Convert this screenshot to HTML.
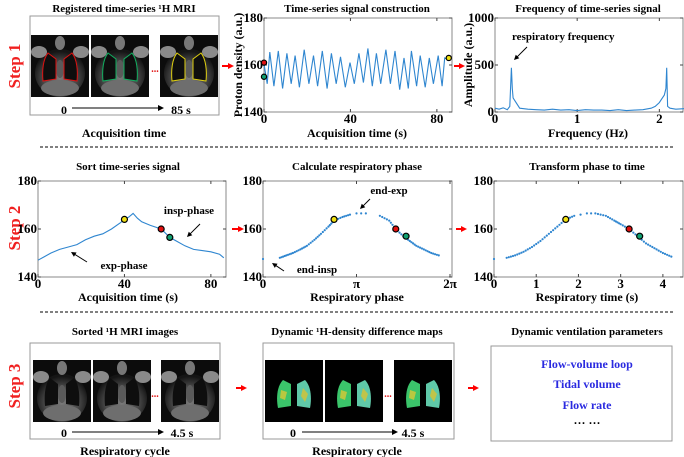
<!DOCTYPE html>
<html><head><meta charset="utf-8"><style>
html,body{margin:0;padding:0;background:#fff;}
svg{display:block;font-family:"Liberation Serif",serif;font-weight:bold;}
</style></head><body>
<svg id="fig" width="684" height="457" viewBox="0 0 684 457" xmlns="http://www.w3.org/2000/svg">
<defs>
  <radialGradient id="bodyG" cx="50%" cy="60%" r="55%">
    <stop offset="0" stop-color="#7a7a7a"/><stop offset="0.6" stop-color="#4a4a4a"/><stop offset="1" stop-color="#151515"/>
  </radialGradient>
  <g id="mri">
    <rect x="0" y="0" width="58" height="62" fill="#0c0c0c"/>
    <ellipse cx="29" cy="38" rx="25" ry="24" fill="url(#bodyG)"/>
    <ellipse cx="8" cy="17" rx="8" ry="6" fill="#8a8a8a"/>
    <ellipse cx="50" cy="17" rx="8" ry="6" fill="#8a8a8a"/>
    <ellipse cx="29" cy="8" rx="5" ry="7" fill="#777"/>
    <ellipse cx="29" cy="53" rx="19" ry="8" fill="#6e6e6e"/>
    <path d="M17 18 C12 24 11 36 12 46 L25 44 L25 24 Z" fill="#0e0e0e"/>
    <path d="M41 18 C46 24 47 36 46 46 L33 44 L33 24 Z" fill="#0e0e0e"/>
    <ellipse cx="29" cy="34" rx="4" ry="9" fill="#5a5a5a"/>
  </g>
  <g id="vent">
    <rect x="0" y="0" width="58" height="62" fill="#000"/>
    <path d="M18 20 C12 26 11 38 13 48 L26 46 L26 24 Z" fill="#3bc46a"/>
    <path d="M40 20 C46 26 47 38 45 48 L32 46 L32 24 Z" fill="#5fc8a8"/>
    <path d="M16 30 L22 32 L20 40 L15 38Z" fill="#b8c840"/>
    <path d="M38 28 L43 34 L40 42 L36 36Z" fill="#c0c44a"/>
  </g>
</defs>
</svg>
<script>
// ---------- DATA ----------
const sigTimes = [0,1.5,2.7,4.6,6.6,8.6,10.6,12.6,14.4,16.4,18.6,20.8,22.9,24.8,27,29.2,31.2,33.4,35.4,37.6,39.8,41.8,43.9,46,48.1,50.1,52,54,56.4,58.5,60.6,62.8,64.8,66.8,68.2,70.6,72.3,74.6,76.5,78.4,80.6,82.4,83.6,86];
const sigValues = [160.5,152,165.5,151,166,150,165,152,164,150.5,166.5,152,164,151,166,150,165,152,163.5,150.5,161,152,165,152.5,167,151,165,152,166.5,152,166,149.5,163,150,166,151,164,150.5,163,152,164,151,163,162];
const specFreq = [0,0.05,0.1,0.15,0.18,0.2,0.21,0.22,0.25,0.3,0.4,0.5,0.6,0.7,0.8,0.9,1.0,1.1,1.2,1.3,1.4,1.5,1.6,1.7,1.8,1.9,1.95,2.0,2.03,2.06,2.08,2.09,2.1,2.13,2.2,2.3];
const specAmp  = [40,30,45,25,60,470,250,150,110,40,30,25,20,30,20,25,15,25,20,20,15,25,15,20,25,40,60,100,140,180,250,470,60,40,30,35];
const sortTimes  = [0,3,6,10,14,18,22,26,30,34,38,40,42,44,46,48,52,57,61,64,68,72,76,80,84,86];
const sortValues = [147,148.5,150,151.5,152.5,153.5,155.5,157,158,160,162.5,164,165,166.5,164.5,163,161.5,160,156.5,155,153,151.5,151,150.5,149.5,148];
const phaseVals  = [0,0.18,0.25,0.32,0.4,0.47,0.55,0.62,0.7,0.76,0.85,0.93,1.0,1.05,1.1,1.25,1.35,1.42,1.5,1.57,1.64,1.72,1.8,1.88];
const phaseSig   = [147.5,148,149,150,151.5,153,155.5,158,161,163.5,165,166,166.5,166.5,166.5,165.5,163.5,160,157,155,153,151.5,150,149];
const respTimes  = [0,0.3,0.5,0.7,0.9,1.1,1.3,1.5,1.7,1.9,2.05,2.2,2.3,2.4,2.65,2.85,3.0,3.2,3.4,3.6,3.8,4.0,4.2];
const respSig    = [147.5,148,149,150.5,152.5,155,158,161,164,165.5,166,166.5,166.5,166.5,165.5,163.5,162,160,157,154,152,150,148.5];
const sortMarkT = [40,57,61], sortMarkV = [164,160,156.5];
const phaseMarkP = [0.76,1.42,1.53], phaseMarkV = [164,160,157];
const respMarkT = [1.7,3.2,3.45], respMarkV = [164,160,157];
const markColors = ['#f0e010','#e01010','#10a070'];
const sigTicks = [0,40,80], ampTicks=[0,500,1000], freqTicks=[0,1,2], pdTicks=[140,160,180];
const phaseTicks=[0,1,2], phaseLabels=['0','\u03c0','2\u03c0'], timeTicks=[0,1,2,3,4];

// ---------- HELPERS ----------
const NS='http://www.w3.org/2000/svg';
const svg=document.getElementById('fig');
function mk(tag,attrs,parent,text){const e=document.createElementNS(NS,tag);for(const k in attrs)e.setAttribute(k,attrs[k]);if(text!==undefined)e.textContent=text;(parent||svg).appendChild(e);return e;}
function scale(d0,d1,r0,r1){return v=>r0+(v-d0)/(d1-d0)*(r1-r0);}
function txt(x,y,s,size,name,opts){opts=opts||{};const t=mk('text',{x:x,y:y,'font-size':size,'text-anchor':opts.anchor||'middle',fill:opts.fill||'#000'},svg,s);
  if(opts.rot){t.setAttribute('transform','rotate(-90 '+x+' '+y+')');}
  
  
  return t;}
function axes(name,x0,y0,w,h,xs,ys,xt,xl,yt,yl){
  const g=mk('g',{});
  
  
  mk('rect',{x:x0,y:y0,width:w,height:h,fill:'#fff',stroke:'#888','stroke-width':1},g);
  xt.forEach((v,i)=>{const x=xs(v);mk('line',{x1:x,y1:y0+h,x2:x,y2:y0+h-3,stroke:'#444'},g);mk('line',{x1:x,y1:y0,x2:x,y2:y0+3,stroke:'#444'},g);
    const t=mk('text',{x:x,y:y0+h+11,'font-size':13,'text-anchor':'middle'},g,xl[i]);
    
    });
  yt.forEach((v,i)=>{const y=ys(v);mk('line',{x1:x0,y1:y,x2:x0+3,y2:y,stroke:'#444'},g);mk('line',{x1:x0+w,y1:y,x2:x0+w-3,y2:y,stroke:'#444'},g);
    const t=mk('text',{x:x0-1,y:y+4,'font-size':13,'text-anchor':'end'},g,yl[i]);
    
    });
  return g;}
function line(g,xs,ys,X,Y,name){const d=X.map((v,i)=>(i?'L':'M')+xs(v).toFixed(1)+' '+ys(Y[i]).toFixed(1)).join(' ');
  const p=mk('path',{d:d,fill:'none',stroke:'#2f86d0','stroke-width':1.1},g);
  
  }
function dots(g,xs,ys,X,Y,name){const span=X[X.length-1]-X[0];
  X.forEach((v,i)=>{const c=mk('circle',{cx:xs(v),cy:ys(Y[i]),r:1.1,fill:'#2f86d0'},g);
  
  
  if(i>0&&i<X.length-1&&X[i+1]-v<span*0.06&&Math.abs(Y[i+1]-Y[i])>0.8){for(let k=1;k<4;k++){const f=k/4;const c2=mk('circle',{cx:xs(v)+(xs(X[i+1])-xs(v))*f,cy:ys(Y[i])+(ys(Y[i+1])-ys(Y[i]))*f,r:1.1,fill:'#2f86d0'},g);
    
    }}});}
function markers(g,xs,ys,X,Y){X.forEach((v,i)=>{const c=mk('circle',{cx:xs(v),cy:ys(Y[i]),r:3,fill:markColors[i],stroke:'#000','stroke-width':1.2},g);
  
  });}
function arrow(x1,y1,x2,y2,color,name,w){const g=mk('g',{});
  
  
  const a=Math.atan2(y2-y1,x2-x1),L=w||5;
  mk('line',{x1:x1,y1:y1,x2:x2-Math.cos(a)*L*0.8,y2:y2-Math.sin(a)*L*0.8,stroke:color,'stroke-width':color==='#f00'?2:1},g);
  const p=[[x2,y2],[x2-L*Math.cos(a)+L*0.5*Math.sin(a),y2-L*Math.sin(a)-L*0.5*Math.cos(a)],[x2-L*Math.cos(a)-L*0.5*Math.sin(a),y2-L*Math.sin(a)+L*0.5*Math.cos(a)]];
  mk('polygon',{points:p.map(q=>q.join(',')).join(' '),fill:color},g);}
function box(x,y,w,h,name){const r=mk('rect',{x:x,y:y,width:w,height:h,fill:'#fff',stroke:'#999','stroke-width':1});
  
  }
function img(id,x,y,name,outline){const u=mk('use',{href:'#'+id,x:x,y:y});
  
  
  if(outline){const p=mk('path',{d:`M${x+17} ${y+18} C${x+12} ${y+24} ${x+11} ${y+36} ${x+12} ${y+46} L${x+25} ${y+44} L${x+25} ${y+24} Z M${x+41} ${y+18} C${x+46} ${y+24} ${x+47} ${y+36} ${x+46} ${y+46} L${x+33} ${y+44} L${x+33} ${y+24} Z`,fill:'none',stroke:outline,'stroke-width':1});
    
    }}

// ---------- STEP LABELS ----------
txt(20,66,'Step 1',17,'step-1-label',{rot:true,fill:'#f02020'});
txt(20,228,'Step 2',17,'step-2-label',{rot:true,fill:'#f02020'});
txt(20,386,'Step 3',17,'step-3-label',{rot:true,fill:'#f02020'});

// ---------- STEP 1 ----------
txt(124,12,'Registered time-series \u00b9H MRI',11,'mri-panel-title');
box(30,16,189,99,'mri-series-box');
img('mri',31,35,'mri-frame-first','#e01010');
img('mri',91,35,'mri-frame-second','#10b060');
img('mri',160,35,'mri-frame-last','#e0d010');
txt(155,72,'...',10,'ellipsis',{fill:'#e01010'});
txt(64,114,'0',12,'time-start-label');
arrow(72,108,164,108,'#000','time-arrow',6);
txt(181,114,'85 s',12,'time-end-label');
txt(124,137,'Acquisition time',12,'acquisition-time-label');

let xs=scale(0,87,264,452), ys=scale(140,180,112,18);
let g=axes('signal-chart',264,18,188,94,xs,ys,sigTicks,sigTicks.map(String),pdTicks,pdTicks.map(String));
line(g,xs,ys,sigTimes,sigValues,'signal-line');
[[0,161,'#e01010'],[0,155,'#10a070'],[85.5,163,'#f0e010']].forEach(m=>{const c=mk('circle',{cx:xs(m[0]),cy:ys(m[1]),r:2.6,fill:m[2],stroke:'#000','stroke-width':1.2},g);
  
  });
txt(357,12,'Time-series signal construction',11,'signal-title');
txt(357,137,'Acquisition time (s)',12,'signal-x-title');
txt(242,65,'Proton density (a.u.)',12,'signal-y-title',{rot:true});
arrow(222,66,234,66,'#f00','arrow-1a',6);
arrow(454,66,465,66,'#f00','arrow-1b',6);

xs=scale(0,2.3,495,684); ys=scale(0,1000,112,18);
g=axes('spectrum-chart',495,18,188,94,xs,ys,freqTicks,freqTicks.map(String),ampTicks,ampTicks.map(String));
line(g,xs,ys,specFreq,specAmp,'spectrum-line');
txt(588,12,'Frequency of time-series signal',11,'spectrum-title');
txt(588,137,'Frequency (Hz)',12,'spectrum-x-title');
txt(472,65,'Amplitude (a.u.)',12,'spectrum-y-title',{rot:true});
txt(512,40,'respiratory frequency',11,'peak-annotation',{anchor:'start'});
arrow(527,47,514,60,'#000','peak-arrow',5);

mk('line',{x1:40,y1:147,x2:675,y2:147,stroke:'#000','stroke-dasharray':'3,2','stroke-width':1});

// ---------- STEP 2 ----------
xs=scale(0,87,38,226); ys=scale(140,180,277,181);
g=axes('sorted-signal-chart',38,181,188,96,xs,ys,sigTicks,sigTicks.map(String),pdTicks,pdTicks.map(String));
line(g,xs,ys,sortTimes,sortValues,'sorted-signal-line');
markers(g,xs,ys,sortMarkT,sortMarkV);
txt(128,170,'Sort time-series signal',11,'sort-title');
txt(128,301,'Acquisition time (s)',12,'sort-x-title');
txt(189,214,'insp-phase',11,'insp-annotation');
arrow(200,224,187,237,'#000','insp-arrow',5);
txt(124,269,'exp-phase',11,'exp-annotation');
arrow(87,262,71,252,'#000','exp-arrow',5);
arrow(232,229,244,229,'#f00','arrow-2a',6);

xs=scale(0,2,263,450); ys=scale(140,180,277,181);
g=axes('phase-chart',263,181,189,96,xs,ys,phaseTicks,phaseLabels,pdTicks,pdTicks.map(String));
dots(g,xs,ys,phaseVals,phaseSig,'phase-point');
markers(g,xs,ys,phaseMarkP,phaseMarkV);
txt(357,170,'Calculate respiratory phase',11,'phase-title');
txt(357,301,'Respiratory phase',12,'phase-x-title');
txt(389,194,'end-exp',11,'end-exp-annotation');
arrow(370,199,360,209,'#000','end-exp-arrow',5);
txt(317,273,'end-insp',11,'end-insp-annotation');
arrow(284,271,272,263,'#000','end-insp-arrow',5);
arrow(456,229,467,229,'#f00','arrow-2b',6);

xs=scale(0,4.5,494,684); ys=scale(140,180,277,181);
g=axes('resp-time-chart',494,181,189,96,xs,ys,timeTicks,timeTicks.map(String),pdTicks,pdTicks.map(String));
dots(g,xs,ys,respTimes,respSig,'resp-time-point');
markers(g,xs,ys,respMarkT,respMarkV);
txt(587,170,'Transform phase to time',11,'resp-time-title');
txt(587,301,'Respiratory time (s)',12,'resp-time-x-title');

mk('line',{x1:40,y1:312,x2:675,y2:312,stroke:'#000','stroke-dasharray':'3,2','stroke-width':1});

// ---------- STEP 3 ----------
txt(125,335,'Sorted  \u00b9H MRI images',11,'sorted-mri-title');
box(30,343,190,96,'sorted-mri-box');
img('mri',33,360,'sorted-frame-1');
img('mri',93,360,'sorted-frame-2');
img('mri',161,360,'sorted-frame-last');
txt(155,397,'...',10,'ellipsis-2',{fill:'#e01010'});
txt(64,437,'0',12,'cycle-start-label');
arrow(72,432,164,432,'#000','cycle-arrow',6);
txt(182,437,'4.5 s',12,'cycle-end-label');
txt(125,455,'Respiratory cycle',12,'cycle-label-1');
arrow(236,388,247,388,'#f00','arrow-3a',6);

txt(357,335,'Dynamic  \u00b9H-density difference maps',11,'density-maps-title');
box(263,343,191,96,'density-box');
img('vent',265,360,'density-map-1');
img('vent',325,360,'density-map-2');
img('vent',394,360,'density-map-last');
txt(388,397,'...',10,'ellipsis-3',{fill:'#e01010'});
txt(293,437,'0',12,'cycle-start-label-2');
arrow(302,432,398,432,'#000','cycle-arrow-2',6);
txt(413,437,'4.5 s',12,'cycle-end-label-2');
txt(357,455,'Respiratory cycle',12,'cycle-label-2');
arrow(468,388,479,388,'#f00','arrow-3b',6);

txt(587,335,'Dynamic ventilation parameters',11,'ventilation-title');
box(491,346,181,95,'ventilation-box');
txt(587,368,'Flow-volume loop',12,'param-flow-volume',{fill:'#2a2ae0'});
txt(587,388,'Tidal volume',12,'param-tidal-volume',{fill:'#2a2ae0'});
txt(587,409,'Flow rate',12,'param-flow-rate',{fill:'#2a2ae0'});
txt(587,427,'\u00b7\u00b7\u00b7 \u00b7\u00b7\u00b7',12,'param-more');
</script>
</body></html>
